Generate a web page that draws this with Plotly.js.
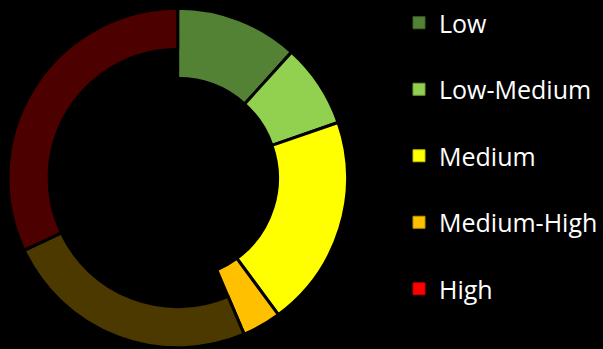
<!DOCTYPE html>
<html>
<head>
<meta charset="utf-8">
<script src="https://cdn.plot.ly/plotly-3.0.1.min.js"></script>
<style>
html,body{margin:0;padding:0;background:#000;}
#chart{width:603px;height:349px;}
</style>
</head>
<body>
<div id="chart"></div>
<script>
// Ring segments, clockwise from 12 o'clock
const segmentLabels = ["Low", "Low-Medium", "Medium", "Medium-High", "Medium-High (rest)", "High"];
const segmentValues = [11.7, 8.0, 20.2, 3.7, 24.4, 32.0];
const segmentColors = ["#548235", "#92D050", "#FFFF00", "#FFC000", "#4B3900", "#4C0000"];
// which segments belong to the thick (bright) ring
const isBright = [true, true, true, true, false, false];

// Legend entries
const legendLabels = ["Low", "Low-Medium", "Medium", "Medium-High", "High"];
const legendColors = ["#548235", "#92D050", "#FFFF00", "#FFC000", "#FF0000"];
const legendBorders = ["#3F6228", "#6E9C3C", "#BFBF00", "#BF9000", "#BF0000"];

const T = "rgba(0,0,0,0)";
const dom = {x: [0.01327, 0.5771], y: [0.00287, 0.977]};

const thick = {
  type: "pie", labels: segmentLabels, values: segmentValues,
  sort: false, direction: "clockwise", rotation: 0,
  hole: 0.588, domain: dom, textinfo: "none", hoverinfo: "label+value",
  showlegend: false,
  marker: {
    colors: segmentColors.map((c, i) => isBright[i] ? c : T),
    line: {color: "#000", width: isBright.map(b => b ? 3 : 0)}
  }
};
const thin = {
  type: "pie", labels: segmentLabels, values: segmentValues,
  sort: false, direction: "clockwise", rotation: 0,
  hole: 0.758, domain: dom, textinfo: "none", hoverinfo: "label+value",
  showlegend: false,
  marker: {
    colors: segmentColors.map((c, i) => isBright[i] ? T : c),
    line: {color: "#000", width: isBright.map(b => b ? 0 : 3)}
  }
};

const legendTraces = legendLabels.map((lab, i) => ({
  type: "scatter", mode: "markers", x: [null], y: [null],
  name: lab, legendgroup: "g" + i, showlegend: true, hoverinfo: "skip",
  marker: {symbol: "square", size: 12, color: legendColors[i], line: {color: legendBorders[i], width: 1}}
}));

const layout = {
  width: 603, height: 349,
  margin: {l: 0, r: 0, t: 0, b: 0},
  paper_bgcolor: "#000", plot_bgcolor: "#000",
  xaxis: {visible: false}, yaxis: {visible: false},
  showlegend: true,
  legend: {
    x: 0.663, y: 1.0, xanchor: "left", yanchor: "top",
    bgcolor: "rgba(0,0,0,0)",
    font: {family: "'Open Sans', sans-serif", size: 25, color: "#FFFFFF"},
    traceorder: "grouped", tracegroupgap: 31
  }
};

Plotly.newPlot("chart", [thick, thin].concat(legendTraces), layout, {displayModeBar: false, staticPlot: true});
</script>
</body>
</html>
